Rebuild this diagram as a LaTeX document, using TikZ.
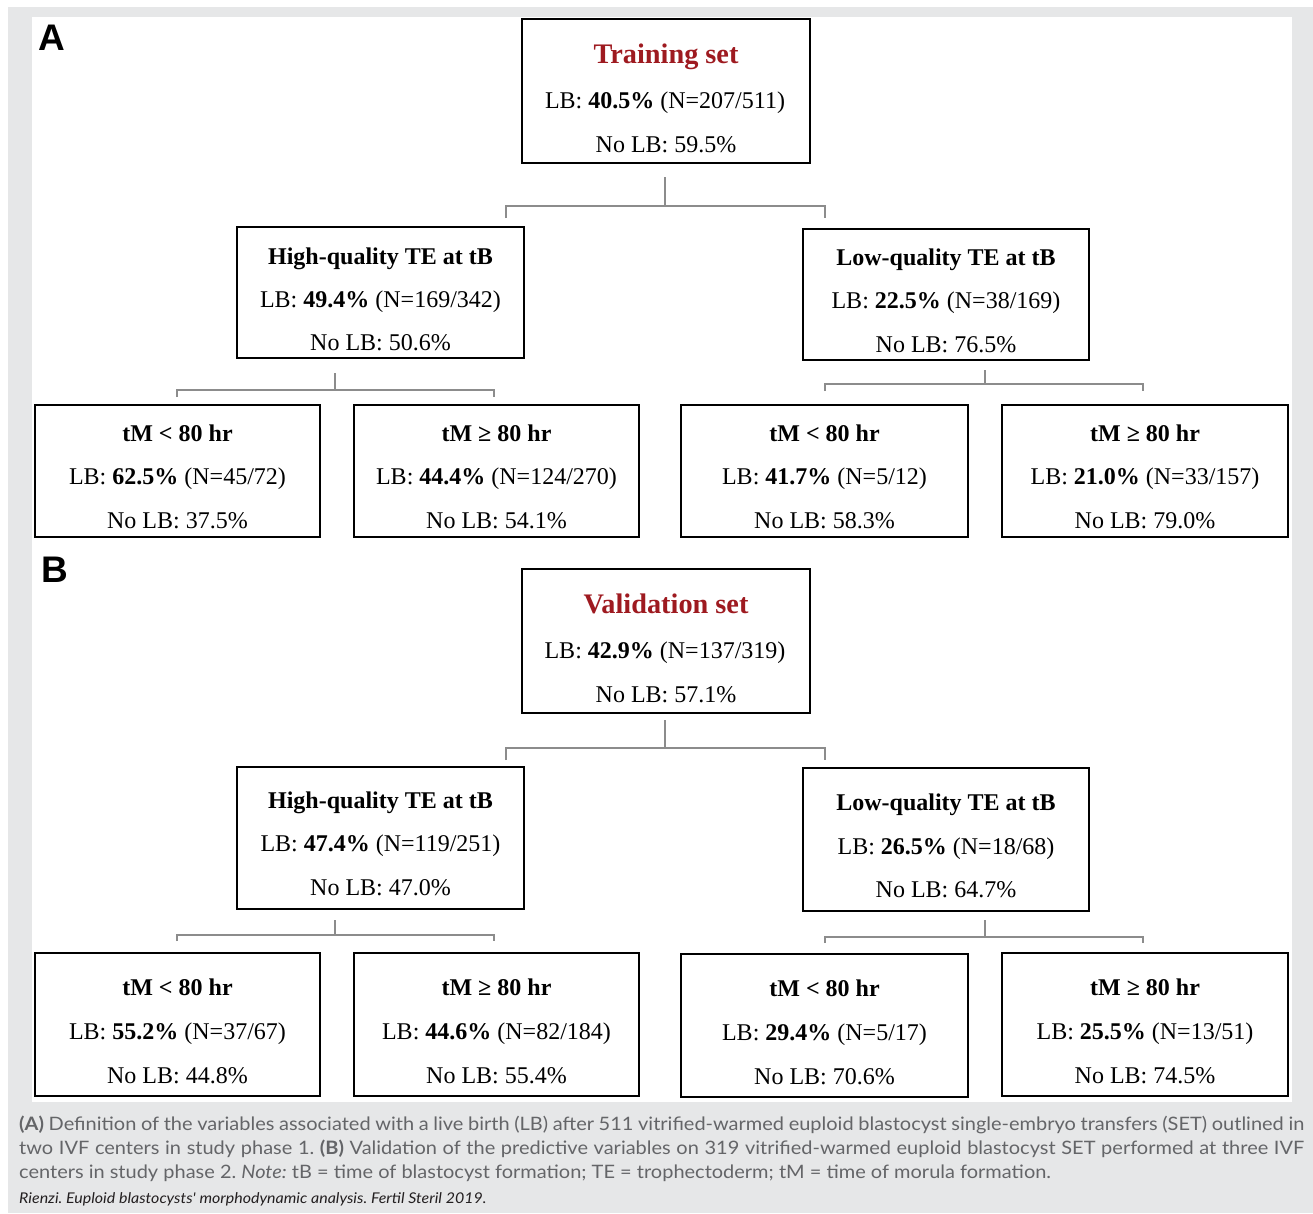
\documentclass[tikz,border=0pt]{standalone}
\usepackage{fontspec}
\setmainfont{Liberation Serif}
\newfontfamily\capfont{Lato}[FakeStretch=1.08]
\newfontfamily\panfont{Liberation Sans}
\usetikzlibrary{calc}
\frenchspacing
\definecolor{bggray}{RGB}{230,231,232}
\definecolor{ttlred}{RGB}{158,26,32}
\definecolor{conngray}{RGB}{140,140,140}
\definecolor{capgray}{RGB}{100,101,104}
\definecolor{srcblack}{RGB}{35,31,32}
\tikzset{
  box/.style={draw=black, line width=1.6pt, rectangle, inner sep=0pt, fill=white},
  conn/.style={draw=conngray, line width=1.4pt},
  txt/.style={anchor=base, inner sep=0pt, font=\fontsize{24}{28}\selectfont},
  hdr/.style={anchor=base, inner sep=0pt, font=\fontsize{24}{28}\selectfont\bfseries},
  ttl/.style={anchor=base, inner sep=0pt, font=\fontsize{28.3}{32}\selectfont\bfseries, text=ttlred},
  panel/.style={anchor=base west, inner sep=0pt, font=\panfont\fontsize{37}{40}\selectfont\bfseries},
  capline/.style={anchor=base west, inner sep=0pt, text=capgray, font=\capfont\fontsize{18.5}{21}\selectfont},
  srcline/.style={anchor=base west, inner sep=0pt, text=srcblack, font=\capfont\fontsize{14.8}{17}\selectfont\itshape},
}
\newcommand{\mkbox}[5]{\node[box, minimum width={(#4-#2)*1pt}, minimum height={(#5-#3)*1pt}] (#1) at ({(#2+#4)/2},{(#3+#5)/2}) {};}
\newcommand{\threelines}[8]{%
  \node[hdr] (#1-h) at (#2,#3) {#6};
  \node[txt] (#1-l) at (#2,#4) {#7};
  \node[txt] (#1-n) at (#2,#5) {#8};}
\newcommand{\junction}[7]{% name, stem x, stem top y, bar y, left x, right x, tick bottom y
  \coordinate (#1-s) at (#2,#3);
  \coordinate (#1-j) at (#2,#4);
  \coordinate (#1-l) at (#5,#7);
  \coordinate (#1-r) at (#6,#7);
  \draw[conn] (#1-s) -- (#1-j);
  \draw[conn] (#1-l) |- (#1-j) -| (#1-r);}
\begin{document}
\begin{tikzpicture}[x=1pt,y=-1pt]
\useasboundingbox (0,0) rectangle (1313,1213);
\fill[bggray] (8,7) rectangle (1313,1213);
\fill[white] (32,17) rectangle (1292,1102);

% ---------------- Panel A ----------------
\node[panel] (labA) at (38,50) {A};
\mkbox{trA}{522}{19}{810}{163}
\node[ttl] (trA-h) at (666,63) {Training set};
\node[txt] (trA-l) at (665,108) {LB: \textbf{40.5\%} (N=207/511)};
\node[txt] (trA-n) at (666,152) {No LB: 59.5\%};

\junction{jA}{665}{177}{206}{506}{825}{218}

\mkbox{hiA}{237}{227}{524}{358}
\threelines{hiA}{380.5}{264}{307}{350}{High-quality TE at tB}{LB: \textbf{49.4\%} (N=169/342)}{No LB: 50.6\%}
\mkbox{loA}{803}{229}{1089}{360}
\threelines{loA}{946}{265}{308}{352}{Low-quality TE at tB}{LB: \textbf{22.5\%} (N=38/169)}{No LB: 76.5\%}

\junction{jAh}{335}{373}{390}{177}{494}{397}
\junction{jAl}{985}{370}{384}{825}{1143}{391}

\mkbox{a1}{35}{405}{320}{537}
\threelines{a1}{177.5}{441}{484}{528}{tM < 80 hr}{LB: \textbf{62.5\%} (N=45/72)}{No LB: 37.5\%}
\mkbox{a2}{354}{405}{639}{537}
\threelines{a2}{496.5}{441}{484}{528}{tM ≥ 80 hr}{LB: \textbf{44.4\%} (N=124/270)}{No LB: 54.1\%}
\mkbox{a3}{681}{405}{968}{537}
\threelines{a3}{824.5}{441}{484}{528}{tM < 80 hr}{LB: \textbf{41.7\%} (N=5/12)}{No LB: 58.3\%}
\mkbox{a4}{1002}{405}{1288}{537}
\threelines{a4}{1145}{441}{484}{528}{tM ≥ 80 hr}{LB: \textbf{21.0\%} (N=33/157)}{No LB: 79.0\%}

% ---------------- Panel B ----------------
\node[panel] (labB) at (41,582) {B};
\mkbox{vaB}{522}{569}{810}{713}
\node[ttl] (vaB-h) at (666,613) {Validation set};
\node[txt] (vaB-l) at (665,658) {LB: \textbf{42.9\%} (N=137/319)};
\node[txt] (vaB-n) at (666,702) {No LB: 57.1\%};

\junction{jB}{665}{720}{748}{506}{825}{760}

\mkbox{hiB}{237}{767}{524}{909}
\threelines{hiB}{380.5}{808}{851}{895}{High-quality TE at tB}{LB: \textbf{47.4\%} (N=119/251)}{No LB: 47.0\%}
\mkbox{loB}{803}{768}{1089}{911}
\threelines{loB}{946}{810}{854}{897}{Low-quality TE at tB}{LB: \textbf{26.5\%} (N=18/68)}{No LB: 64.7\%}

\junction{jBh}{335}{920}{935}{177}{494}{941}
\junction{jBl}{985}{920}{937}{825}{1143}{943}

\mkbox{b1}{35}{953}{320}{1096}
\threelines{b1}{177.5}{995}{1039}{1083}{tM < 80 hr}{LB: \textbf{55.2\%} (N=37/67)}{No LB: 44.8\%}
\mkbox{b2}{354}{953}{639}{1096}
\threelines{b2}{496.5}{995}{1039}{1083}{tM ≥ 80 hr}{LB: \textbf{44.6\%} (N=82/184)}{No LB: 55.4\%}
\mkbox{b3}{681}{954}{968}{1097}
\threelines{b3}{824.5}{996}{1040}{1084}{tM < 80 hr}{LB: \textbf{29.4\%} (N=5/17)}{No LB: 70.6\%}
\mkbox{b4}{1002}{953}{1288}{1096}
\threelines{b4}{1145}{995}{1039}{1083}{tM ≥ 80 hr}{LB: \textbf{25.5\%} (N=13/51)}{No LB: 74.5\%}

% ---------------- Caption ----------------
\node[capline] (cap1) at (19,1130) {\makebox[1285pt][s]{\textbf{(A)} Definition of the variables associated with a live birth (LB) after 511 vitrified-warmed euploid blastocyst single-embryo transfers (SET) outlined in}};
\node[capline] (cap2) at (19,1154) {\makebox[1285pt][s]{two IVF centers in study phase 1. \textbf{(B)} Validation of the predictive variables on 319 vitrified-warmed euploid blastocyst SET performed at three IVF}};
\node[capline] (cap3) at (19,1178) {centers in study phase 2. \textit{Note:} tB = time of blastocyst formation; TE = trophectoderm; tM = time of morula formation.};
\node[srcline] (src) at (19,1203) {Rienzi. Euploid blastocysts' morphodynamic analysis. Fertil Steril 2019.};
\end{tikzpicture}
\end{document}
